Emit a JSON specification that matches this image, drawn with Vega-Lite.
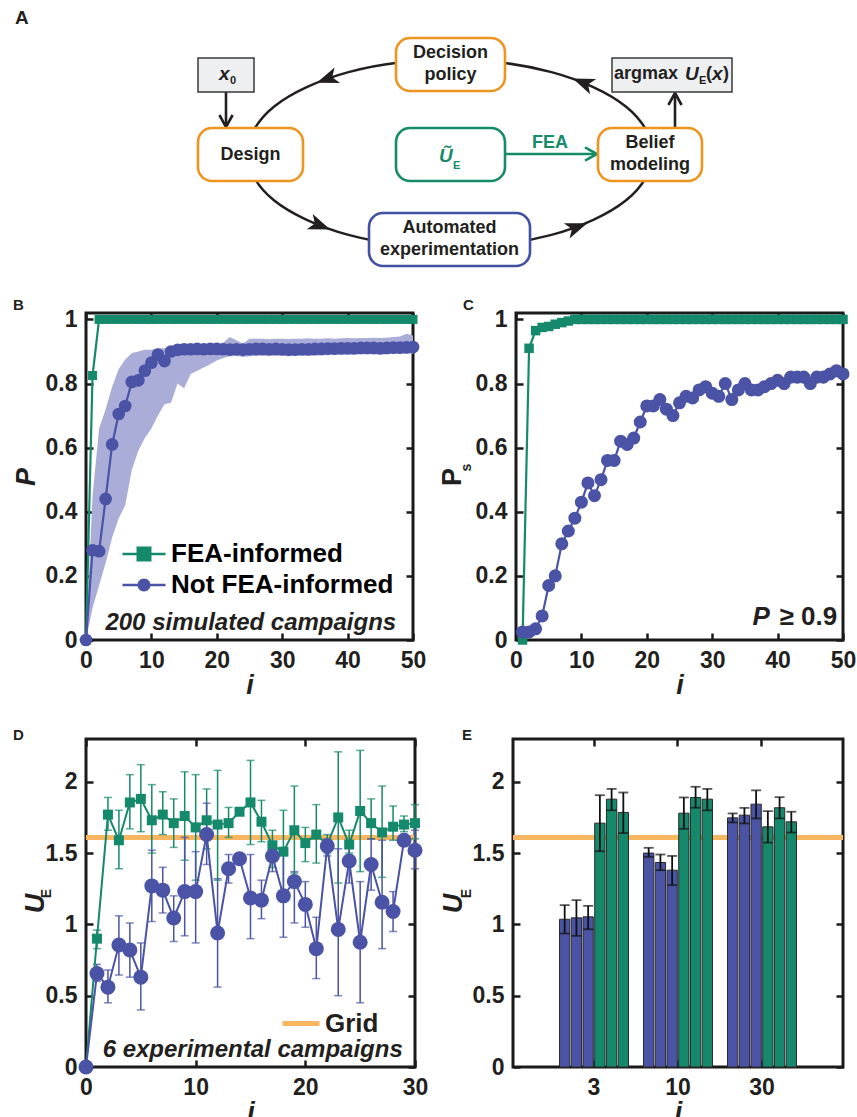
{
"$schema": "https://vega.github.io/schema/vega-lite/v6.json",
"background": "white",
"padding": {"left": 10, "top": 9, "right": 0, "bottom": 0},
"config": {
  "font": "Liberation Sans",
  "view": {"stroke": "#1a1a1a", "strokeWidth": 3},
  "title": {"anchor": "start", "frame": "group", "font": "Liberation Sans", "fontWeight": "bold", "fontSize": 15, "color": "#231F20", "baseline": "alphabetic", "offset": -5},
  "axis": {"domain": false, "grid": false, "ticks": true, "minExtent": 0, "tickColor": "#1a1a1a", "tickWidth": 2.5, "tickSize": -7, "labelFont": "Liberation Sans", "labelFontSize": 23, "labelFontWeight": "bold", "labelColor": "#231F20", "labelFlush": false, "labelOverlap": false, "labelPadding": 16, "titleFont": "Liberation Sans", "titleFontSize": 27, "titleFontWeight": "bold", "titleFontStyle": "italic", "titleColor": "#231F20", "titlePadding": 0},
  "axisLeft": {"titleAngle": -90, "titleBaseline": "middle", "titleAlign": "center"},
  "axisRight": {"labels": false, "titleAngle": -90, "titleBaseline": "middle", "titleAlign": "center", "titleFontSize": 14, "titleFontStyle": "normal"},
  "axisTop": {"labels": false},
  "legend": {"labelLimit": 400}
},
"datasets": {
  "ell": [{"k":0,"x":648,"y":153.5},{"k":1,"x":620.8,"y":200.5},{"k":2,"x":546.5,"y":234.9},{"k":3,"x":445,"y":247.5},{"k":4,"x":343.5,"y":234.9},{"k":5,"x":269.2,"y":200.5},{"k":6,"x":242,"y":153.5},{"k":7,"x":269.2,"y":106.5},{"k":8,"x":343.5,"y":72.1},{"k":9,"x":445,"y":59.5},{"k":10,"x":546.5,"y":72.1},{"k":11,"x":620.8,"y":106.5}],
  "heads": [{"x":322,"y":79,"a":160.5},{"x":315,"y":225.5,"a":21},{"x":572,"y":227,"a":-20.5},{"x":578,"y":82.5,"a":202}],
  "boxes": [{"x":391,"x2":500,"y":38,"y2":91,"k":"step"},{"x":193,"x2":298,"y":128,"y2":181,"k":"step"},{"x":593,"x2":697,"y":128,"y2":181,"k":"step"},{"x":391,"x2":500,"y":128,"y2":181,"k":"prior"},{"x":364,"x2":525,"y":213,"y2":266,"k":"experiment"}],
  "sboxes": [{"x":193,"x2":249,"y":58,"y2":92},{"x":607,"x2":727,"y":58,"y2":92}],
  "links": [{"x":221,"y":92,"x2":221,"y2":125,"k":"io"},{"x":670,"y":128,"x2":670,"y2":95,"k":"io"},{"x":500,"y":154,"x2":590,"y2":154,"k":"prior"}],
  "tips": [{"x":221,"y":127,"a":90,"k":"io"},{"x":670,"y":93,"a":-90,"k":"io"},{"x":592,"y":154,"a":0,"k":"prior"}],
  "dtext": [
    {"t":"Decision\npolicy","x":445.5,"y":53,"p":"label","k":"plain"},
    {"t":"Design","x":245.5,"y":154.5,"p":"label","k":"plain"},
    {"t":"Belief\nmodeling","x":645,"y":143,"p":"label","k":"plain"},
    {"t":"Automated\nexperimentation","x":444.5,"y":228,"p":"label","k":"plain"},
    {"t":"FEA","x":545,"y":142.5,"p":"label","k":"prior"},
    {"t":"x","x":214,"y":74,"p":"var","k":"plain"},
    {"t":"0","x":225,"y":81,"p":"sub","k":"plain"},
    {"t":"Ũ","x":434,"y":156,"p":"var","k":"prior"},
    {"t":"E","x":448,"y":166,"p":"sub","k":"prior"},
    {"t":"argmax","x":609,"y":74,"p":"word","k":"plain"},
    {"t":"U","x":680,"y":74,"p":"var","k":"plain"},
    {"t":"E","x":694,"y":81,"p":"sub","k":"plain"},
    {"t":"(","x":701,"y":74,"p":"word","k":"plain"},
    {"t":"x","x":707,"y":74,"p":"var","k":"plain"},
    {"t":")","x":718,"y":74,"p":"word","k":"plain"}
  ],
  "bandB": [{"i":0,"lo":0,"hi":0},{"i":1,"lo":0.10,"hi":0.45},{"i":2,"lo":0.17,"hi":0.66},{"i":3,"lo":0.24,"hi":0.72},{"i":4,"lo":0.32,"hi":0.79},{"i":5,"lo":0.38,"hi":0.845},{"i":6,"lo":0.42,"hi":0.875},{"i":7,"lo":0.53,"hi":0.895},{"i":8,"lo":0.59,"hi":0.90},{"i":9,"lo":0.63,"hi":0.905},{"i":10,"lo":0.66,"hi":0.905},{"i":11,"lo":0.70,"hi":0.91},{"i":12,"lo":0.735,"hi":0.91},{"i":13,"lo":0.74,"hi":0.91},{"i":14,"lo":0.80,"hi":0.915},{"i":15,"lo":0.785,"hi":0.915},{"i":16,"lo":0.83,"hi":0.915},{"i":17,"lo":0.84,"hi":0.915},{"i":18,"lo":0.85,"hi":0.915},{"i":19,"lo":0.86,"hi":0.918},{"i":20,"lo":0.872,"hi":0.92},{"i":21,"lo":0.88,"hi":0.928},{"i":22,"lo":0.885,"hi":0.945},{"i":23,"lo":0.886,"hi":0.935},{"i":24,"lo":0.883,"hi":0.925},{"i":25,"lo":0.885,"hi":0.94},{"i":26,"lo":0.886,"hi":0.94},{"i":27,"lo":0.887,"hi":0.94},{"i":28,"lo":0.886,"hi":0.938},{"i":29,"lo":0.887,"hi":0.94},{"i":30,"lo":0.886,"hi":0.94},{"i":31,"lo":0.885,"hi":0.939},{"i":32,"lo":0.886,"hi":0.94},{"i":33,"lo":0.887,"hi":0.94},{"i":34,"lo":0.886,"hi":0.941},{"i":35,"lo":0.887,"hi":0.94},{"i":36,"lo":0.888,"hi":0.94},{"i":37,"lo":0.888,"hi":0.941},{"i":38,"lo":0.889,"hi":0.94},{"i":39,"lo":0.889,"hi":0.941},{"i":40,"lo":0.89,"hi":0.942},{"i":41,"lo":0.89,"hi":0.941},{"i":42,"lo":0.891,"hi":0.942},{"i":43,"lo":0.891,"hi":0.942},{"i":44,"lo":0.891,"hi":0.943},{"i":45,"lo":0.89,"hi":0.942},{"i":46,"lo":0.891,"hi":0.943},{"i":47,"lo":0.892,"hi":0.945},{"i":48,"lo":0.892,"hi":0.947},{"i":49,"lo":0.893,"hi":0.955},{"i":50,"lo":0.893,"hi":0.95}],
  "pB": [
    {"i":0,"v":0,"s":"FEA-informed"},{"i":1,"v":0.825,"s":"FEA-informed"},{"i":2,"v":1,"s":"FEA-informed"},{"i":3,"v":1,"s":"FEA-informed"},{"i":4,"v":1,"s":"FEA-informed"},{"i":5,"v":1,"s":"FEA-informed"},{"i":6,"v":1,"s":"FEA-informed"},{"i":7,"v":1,"s":"FEA-informed"},{"i":8,"v":1,"s":"FEA-informed"},{"i":9,"v":1,"s":"FEA-informed"},{"i":10,"v":1,"s":"FEA-informed"},{"i":11,"v":1,"s":"FEA-informed"},{"i":12,"v":1,"s":"FEA-informed"},{"i":13,"v":1,"s":"FEA-informed"},{"i":14,"v":1,"s":"FEA-informed"},{"i":15,"v":1,"s":"FEA-informed"},{"i":16,"v":1,"s":"FEA-informed"},{"i":17,"v":1,"s":"FEA-informed"},{"i":18,"v":1,"s":"FEA-informed"},{"i":19,"v":1,"s":"FEA-informed"},{"i":20,"v":1,"s":"FEA-informed"},{"i":21,"v":1,"s":"FEA-informed"},{"i":22,"v":1,"s":"FEA-informed"},{"i":23,"v":1,"s":"FEA-informed"},{"i":24,"v":1,"s":"FEA-informed"},{"i":25,"v":1,"s":"FEA-informed"},{"i":26,"v":1,"s":"FEA-informed"},{"i":27,"v":1,"s":"FEA-informed"},{"i":28,"v":1,"s":"FEA-informed"},{"i":29,"v":1,"s":"FEA-informed"},{"i":30,"v":1,"s":"FEA-informed"},{"i":31,"v":1,"s":"FEA-informed"},{"i":32,"v":1,"s":"FEA-informed"},{"i":33,"v":1,"s":"FEA-informed"},{"i":34,"v":1,"s":"FEA-informed"},{"i":35,"v":1,"s":"FEA-informed"},{"i":36,"v":1,"s":"FEA-informed"},{"i":37,"v":1,"s":"FEA-informed"},{"i":38,"v":1,"s":"FEA-informed"},{"i":39,"v":1,"s":"FEA-informed"},{"i":40,"v":1,"s":"FEA-informed"},{"i":41,"v":1,"s":"FEA-informed"},{"i":42,"v":1,"s":"FEA-informed"},{"i":43,"v":1,"s":"FEA-informed"},{"i":44,"v":1,"s":"FEA-informed"},{"i":45,"v":1,"s":"FEA-informed"},{"i":46,"v":1,"s":"FEA-informed"},{"i":47,"v":1,"s":"FEA-informed"},{"i":48,"v":1,"s":"FEA-informed"},{"i":49,"v":1,"s":"FEA-informed"},{"i":50,"v":1,"s":"FEA-informed"},
    {"i":0,"v":0,"s":"Not FEA-informed"},{"i":1,"v":0.28,"s":"Not FEA-informed"},{"i":2,"v":0.277,"s":"Not FEA-informed"},{"i":3,"v":0.44,"s":"Not FEA-informed"},{"i":4,"v":0.61,"s":"Not FEA-informed"},{"i":5,"v":0.705,"s":"Not FEA-informed"},{"i":6,"v":0.73,"s":"Not FEA-informed"},{"i":7,"v":0.805,"s":"Not FEA-informed"},{"i":8,"v":0.81,"s":"Not FEA-informed"},{"i":9,"v":0.84,"s":"Not FEA-informed"},{"i":10,"v":0.865,"s":"Not FEA-informed"},{"i":11,"v":0.89,"s":"Not FEA-informed"},{"i":12,"v":0.87,"s":"Not FEA-informed"},{"i":13,"v":0.9,"s":"Not FEA-informed"},{"i":14,"v":0.905,"s":"Not FEA-informed"},{"i":15,"v":0.907,"s":"Not FEA-informed"},{"i":16,"v":0.907,"s":"Not FEA-informed"},{"i":17,"v":0.908,"s":"Not FEA-informed"},{"i":18,"v":0.907,"s":"Not FEA-informed"},{"i":19,"v":0.908,"s":"Not FEA-informed"},{"i":20,"v":0.908,"s":"Not FEA-informed"},{"i":21,"v":0.907,"s":"Not FEA-informed"},{"i":22,"v":0.906,"s":"Not FEA-informed"},{"i":23,"v":0.907,"s":"Not FEA-informed"},{"i":24,"v":0.906,"s":"Not FEA-informed"},{"i":25,"v":0.907,"s":"Not FEA-informed"},{"i":26,"v":0.908,"s":"Not FEA-informed"},{"i":27,"v":0.908,"s":"Not FEA-informed"},{"i":28,"v":0.907,"s":"Not FEA-informed"},{"i":29,"v":0.908,"s":"Not FEA-informed"},{"i":30,"v":0.907,"s":"Not FEA-informed"},{"i":31,"v":0.906,"s":"Not FEA-informed"},{"i":32,"v":0.906,"s":"Not FEA-informed"},{"i":33,"v":0.907,"s":"Not FEA-informed"},{"i":34,"v":0.907,"s":"Not FEA-informed"},{"i":35,"v":0.908,"s":"Not FEA-informed"},{"i":36,"v":0.908,"s":"Not FEA-informed"},{"i":37,"v":0.909,"s":"Not FEA-informed"},{"i":38,"v":0.909,"s":"Not FEA-informed"},{"i":39,"v":0.91,"s":"Not FEA-informed"},{"i":40,"v":0.91,"s":"Not FEA-informed"},{"i":41,"v":0.91,"s":"Not FEA-informed"},{"i":42,"v":0.911,"s":"Not FEA-informed"},{"i":43,"v":0.911,"s":"Not FEA-informed"},{"i":44,"v":0.911,"s":"Not FEA-informed"},{"i":45,"v":0.91,"s":"Not FEA-informed"},{"i":46,"v":0.911,"s":"Not FEA-informed"},{"i":47,"v":0.912,"s":"Not FEA-informed"},{"i":48,"v":0.912,"s":"Not FEA-informed"},{"i":49,"v":0.913,"s":"Not FEA-informed"},{"i":50,"v":0.914,"s":"Not FEA-informed"}
  ],
  "pC": [
    {"i":1,"v":0,"s":"FEA-informed"},{"i":2,"v":0.91,"s":"FEA-informed"},{"i":3,"v":0.965,"s":"FEA-informed"},{"i":4,"v":0.975,"s":"FEA-informed"},{"i":5,"v":0.978,"s":"FEA-informed"},{"i":6,"v":0.985,"s":"FEA-informed"},{"i":7,"v":0.99,"s":"FEA-informed"},{"i":8,"v":0.995,"s":"FEA-informed"},{"i":9,"v":1,"s":"FEA-informed"},{"i":10,"v":1,"s":"FEA-informed"},{"i":11,"v":1,"s":"FEA-informed"},{"i":12,"v":1,"s":"FEA-informed"},{"i":13,"v":1,"s":"FEA-informed"},{"i":14,"v":1,"s":"FEA-informed"},{"i":15,"v":1,"s":"FEA-informed"},{"i":16,"v":1,"s":"FEA-informed"},{"i":17,"v":1,"s":"FEA-informed"},{"i":18,"v":1,"s":"FEA-informed"},{"i":19,"v":1,"s":"FEA-informed"},{"i":20,"v":1,"s":"FEA-informed"},{"i":21,"v":1,"s":"FEA-informed"},{"i":22,"v":1,"s":"FEA-informed"},{"i":23,"v":1,"s":"FEA-informed"},{"i":24,"v":1,"s":"FEA-informed"},{"i":25,"v":1,"s":"FEA-informed"},{"i":26,"v":1,"s":"FEA-informed"},{"i":27,"v":1,"s":"FEA-informed"},{"i":28,"v":1,"s":"FEA-informed"},{"i":29,"v":1,"s":"FEA-informed"},{"i":30,"v":1,"s":"FEA-informed"},{"i":31,"v":1,"s":"FEA-informed"},{"i":32,"v":1,"s":"FEA-informed"},{"i":33,"v":1,"s":"FEA-informed"},{"i":34,"v":1,"s":"FEA-informed"},{"i":35,"v":1,"s":"FEA-informed"},{"i":36,"v":1,"s":"FEA-informed"},{"i":37,"v":1,"s":"FEA-informed"},{"i":38,"v":1,"s":"FEA-informed"},{"i":39,"v":1,"s":"FEA-informed"},{"i":40,"v":1,"s":"FEA-informed"},{"i":41,"v":1,"s":"FEA-informed"},{"i":42,"v":1,"s":"FEA-informed"},{"i":43,"v":1,"s":"FEA-informed"},{"i":44,"v":1,"s":"FEA-informed"},{"i":45,"v":1,"s":"FEA-informed"},{"i":46,"v":1,"s":"FEA-informed"},{"i":47,"v":1,"s":"FEA-informed"},{"i":48,"v":1,"s":"FEA-informed"},{"i":49,"v":1,"s":"FEA-informed"},{"i":50,"v":1,"s":"FEA-informed"},
    {"i":1,"v":0.025,"s":"Not FEA-informed"},{"i":2,"v":0.025,"s":"Not FEA-informed"},{"i":3,"v":0.035,"s":"Not FEA-informed"},{"i":4,"v":0.075,"s":"Not FEA-informed"},{"i":5,"v":0.17,"s":"Not FEA-informed"},{"i":6,"v":0.2,"s":"Not FEA-informed"},{"i":7,"v":0.3,"s":"Not FEA-informed"},{"i":8,"v":0.34,"s":"Not FEA-informed"},{"i":9,"v":0.38,"s":"Not FEA-informed"},{"i":10,"v":0.43,"s":"Not FEA-informed"},{"i":11,"v":0.49,"s":"Not FEA-informed"},{"i":12,"v":0.45,"s":"Not FEA-informed"},{"i":13,"v":0.5,"s":"Not FEA-informed"},{"i":14,"v":0.56,"s":"Not FEA-informed"},{"i":15,"v":0.56,"s":"Not FEA-informed"},{"i":16,"v":0.62,"s":"Not FEA-informed"},{"i":17,"v":0.61,"s":"Not FEA-informed"},{"i":18,"v":0.63,"s":"Not FEA-informed"},{"i":19,"v":0.68,"s":"Not FEA-informed"},{"i":20,"v":0.73,"s":"Not FEA-informed"},{"i":21,"v":0.73,"s":"Not FEA-informed"},{"i":22,"v":0.75,"s":"Not FEA-informed"},{"i":23,"v":0.72,"s":"Not FEA-informed"},{"i":24,"v":0.7,"s":"Not FEA-informed"},{"i":25,"v":0.74,"s":"Not FEA-informed"},{"i":26,"v":0.76,"s":"Not FEA-informed"},{"i":27,"v":0.755,"s":"Not FEA-informed"},{"i":28,"v":0.78,"s":"Not FEA-informed"},{"i":29,"v":0.79,"s":"Not FEA-informed"},{"i":30,"v":0.77,"s":"Not FEA-informed"},{"i":31,"v":0.76,"s":"Not FEA-informed"},{"i":32,"v":0.8,"s":"Not FEA-informed"},{"i":33,"v":0.75,"s":"Not FEA-informed"},{"i":34,"v":0.78,"s":"Not FEA-informed"},{"i":35,"v":0.8,"s":"Not FEA-informed"},{"i":36,"v":0.78,"s":"Not FEA-informed"},{"i":37,"v":0.78,"s":"Not FEA-informed"},{"i":38,"v":0.79,"s":"Not FEA-informed"},{"i":39,"v":0.8,"s":"Not FEA-informed"},{"i":40,"v":0.81,"s":"Not FEA-informed"},{"i":41,"v":0.8,"s":"Not FEA-informed"},{"i":42,"v":0.82,"s":"Not FEA-informed"},{"i":43,"v":0.82,"s":"Not FEA-informed"},{"i":44,"v":0.82,"s":"Not FEA-informed"},{"i":45,"v":0.8,"s":"Not FEA-informed"},{"i":46,"v":0.82,"s":"Not FEA-informed"},{"i":47,"v":0.82,"s":"Not FEA-informed"},{"i":48,"v":0.83,"s":"Not FEA-informed"},{"i":49,"v":0.84,"s":"Not FEA-informed"},{"i":50,"v":0.83,"s":"Not FEA-informed"}
  ],
  "pD": [
    {"i":0,"m":0,"lo":0,"hi":0,"s":"FEA-informed"},{"i":1,"m":0.9,"lo":0.83,"hi":0.96,"s":"FEA-informed"},{"i":2,"m":1.77,"lo":1.66,"hi":1.89,"s":"FEA-informed"},{"i":3,"m":1.59,"lo":1.39,"hi":1.8,"s":"FEA-informed"},{"i":4,"m":1.855,"lo":1.67,"hi":2.05,"s":"FEA-informed"},{"i":5,"m":1.88,"lo":1.65,"hi":2.12,"s":"FEA-informed"},{"i":6,"m":1.73,"lo":1.5,"hi":1.98,"s":"FEA-informed"},{"i":7,"m":1.77,"lo":1.63,"hi":1.93,"s":"FEA-informed"},{"i":8,"m":1.71,"lo":1.54,"hi":1.88,"s":"FEA-informed"},{"i":9,"m":1.76,"lo":1.45,"hi":2.07,"s":"FEA-informed"},{"i":10,"m":1.68,"lo":1.31,"hi":2.05,"s":"FEA-informed"},{"i":11,"m":1.73,"lo":1.53,"hi":1.95,"s":"FEA-informed"},{"i":12,"m":1.7,"lo":1.31,"hi":2.08,"s":"FEA-informed"},{"i":13,"m":1.71,"lo":1.61,"hi":1.82,"s":"FEA-informed"},{"i":14,"m":1.79,"lo":1.79,"hi":1.79,"s":"FEA-informed"},{"i":15,"m":1.855,"lo":1.56,"hi":2.15,"s":"FEA-informed"},{"i":16,"m":1.72,"lo":1.58,"hi":1.87,"s":"FEA-informed"},{"i":17,"m":1.555,"lo":1.4,"hi":1.66,"s":"FEA-informed"},{"i":18,"m":1.51,"lo":1.22,"hi":1.8,"s":"FEA-informed"},{"i":19,"m":1.66,"lo":1.36,"hi":1.97,"s":"FEA-informed"},{"i":20,"m":1.57,"lo":1.44,"hi":1.68,"s":"FEA-informed"},{"i":21,"m":1.63,"lo":1.43,"hi":1.84,"s":"FEA-informed"},{"i":22,"m":1.56,"lo":1.5,"hi":1.63,"s":"FEA-informed"},{"i":23,"m":1.75,"lo":1.29,"hi":2.21,"s":"FEA-informed"},{"i":24,"m":1.56,"lo":1.5,"hi":1.66,"s":"FEA-informed"},{"i":25,"m":1.795,"lo":1.37,"hi":2.22,"s":"FEA-informed"},{"i":26,"m":1.71,"lo":1.6,"hi":1.88,"s":"FEA-informed"},{"i":27,"m":1.645,"lo":1.33,"hi":1.97,"s":"FEA-informed"},{"i":28,"m":1.685,"lo":1.59,"hi":1.83,"s":"FEA-informed"},{"i":29,"m":1.7,"lo":1.65,"hi":1.76,"s":"FEA-informed"},{"i":30,"m":1.71,"lo":1.6,"hi":1.84,"s":"FEA-informed"},
    {"i":0,"m":0,"lo":0,"hi":0,"s":"Not FEA-informed"},{"i":1,"m":0.655,"lo":0.6,"hi":0.72,"s":"Not FEA-informed"},{"i":2,"m":0.56,"lo":0.45,"hi":0.68,"s":"Not FEA-informed"},{"i":3,"m":0.855,"lo":0.645,"hi":1.06,"s":"Not FEA-informed"},{"i":4,"m":0.82,"lo":0.63,"hi":1.01,"s":"Not FEA-informed"},{"i":5,"m":0.63,"lo":0.4,"hi":0.87,"s":"Not FEA-informed"},{"i":6,"m":1.27,"lo":1.02,"hi":1.52,"s":"Not FEA-informed"},{"i":7,"m":1.24,"lo":1.08,"hi":1.4,"s":"Not FEA-informed"},{"i":8,"m":1.045,"lo":0.88,"hi":1.2,"s":"Not FEA-informed"},{"i":9,"m":1.23,"lo":0.92,"hi":1.61,"s":"Not FEA-informed"},{"i":10,"m":1.23,"lo":0.87,"hi":1.51,"s":"Not FEA-informed"},{"i":11,"m":1.63,"lo":1.42,"hi":1.85,"s":"Not FEA-informed"},{"i":12,"m":0.94,"lo":0.56,"hi":1.32,"s":"Not FEA-informed"},{"i":13,"m":1.39,"lo":1.29,"hi":1.49,"s":"Not FEA-informed"},{"i":14,"m":1.46,"lo":1.46,"hi":1.46,"s":"Not FEA-informed"},{"i":15,"m":1.185,"lo":0.9,"hi":1.49,"s":"Not FEA-informed"},{"i":16,"m":1.17,"lo":1.04,"hi":1.31,"s":"Not FEA-informed"},{"i":17,"m":1.48,"lo":1.37,"hi":1.52,"s":"Not FEA-informed"},{"i":18,"m":1.2,"lo":0.91,"hi":1.52,"s":"Not FEA-informed"},{"i":19,"m":1.3,"lo":1.01,"hi":1.37,"s":"Not FEA-informed"},{"i":20,"m":1.14,"lo":0.98,"hi":1.3,"s":"Not FEA-informed"},{"i":21,"m":0.83,"lo":0.62,"hi":1.05,"s":"Not FEA-informed"},{"i":22,"m":1.55,"lo":1.48,"hi":1.6,"s":"Not FEA-informed"},{"i":23,"m":0.965,"lo":0.5,"hi":1.53,"s":"Not FEA-informed"},{"i":24,"m":1.445,"lo":1.29,"hi":1.56,"s":"Not FEA-informed"},{"i":25,"m":0.875,"lo":0.45,"hi":1.3,"s":"Not FEA-informed"},{"i":26,"m":1.42,"lo":1.24,"hi":1.6,"s":"Not FEA-informed"},{"i":27,"m":1.155,"lo":0.83,"hi":1.59,"s":"Not FEA-informed"},{"i":28,"m":1.09,"lo":0.95,"hi":1.23,"s":"Not FEA-informed"},{"i":29,"m":1.59,"lo":1.55,"hi":1.63,"s":"Not FEA-informed"},{"i":30,"m":1.52,"lo":1.39,"hi":1.66,"s":"Not FEA-informed"}
  ],
  "pE": [
    {"g":"3","r":"1","s":"Not FEA-informed","v":1.036,"lo":0.936,"hi":1.135},{"g":"3","r":"2","s":"Not FEA-informed","v":1.046,"lo":0.92,"hi":1.17},{"g":"3","r":"3","s":"Not FEA-informed","v":1.053,"lo":0.966,"hi":1.13},{"g":"3","r":"4","s":"FEA-informed","v":1.71,"lo":1.513,"hi":1.906},{"g":"3","r":"5","s":"FEA-informed","v":1.878,"lo":1.8,"hi":1.95},{"g":"3","r":"6","s":"FEA-informed","v":1.785,"lo":1.64,"hi":1.925},
    {"g":"10","r":"1","s":"Not FEA-informed","v":1.5,"lo":1.474,"hi":1.537},{"g":"10","r":"2","s":"Not FEA-informed","v":1.434,"lo":1.38,"hi":1.49},{"g":"10","r":"3","s":"Not FEA-informed","v":1.38,"lo":1.275,"hi":1.48},{"g":"10","r":"4","s":"FEA-informed","v":1.78,"lo":1.67,"hi":1.89},{"g":"10","r":"5","s":"FEA-informed","v":1.89,"lo":1.818,"hi":1.965},{"g":"10","r":"6","s":"FEA-informed","v":1.878,"lo":1.8,"hi":1.95},
    {"g":"30","r":"1","s":"Not FEA-informed","v":1.747,"lo":1.715,"hi":1.778},{"g":"30","r":"2","s":"Not FEA-informed","v":1.766,"lo":1.708,"hi":1.817},{"g":"30","r":"3","s":"Not FEA-informed","v":1.843,"lo":1.743,"hi":1.94},{"g":"30","r":"4","s":"FEA-informed","v":1.684,"lo":1.574,"hi":1.794},{"g":"30","r":"5","s":"FEA-informed","v":1.818,"lo":1.743,"hi":1.892},{"g":"30","r":"6","s":"FEA-informed","v":1.719,"lo":1.644,"hi":1.79}
  ]
},
"resolve": {"scale": {"color": "independent", "stroke": "independent", "shape": "independent", "size": "independent"}},
"spacing": 26,
"vconcat": [
  {
    "width": 760, "height": 240,
    "view": {"stroke": null},
    "title": {"text": "A", "dx": -71, "fontSize": 19, "offset": 2},
    "encoding": {
      "x": {"field": "x", "type": "quantitative", "scale": {"domain": [81, 841], "nice": false, "zero": false}, "axis": null},
      "y": {"field": "y", "type": "quantitative", "scale": {"domain": [30, 270], "nice": false, "zero": false, "reverse": true}, "axis": null}
    },
    "layer": [
      {"data": {"name": "ell"}, "mark": {"type": "line", "interpolate": "cardinal-closed", "color": "#231F20", "strokeWidth": 2.5}, "encoding": {"order": {"field": "k", "type": "quantitative"}}},
      {"data": {"name": "heads"}, "mark": {"type": "point", "shape": "M1,0L-1,-0.75L-0.5,0L-1,0.75Z", "filled": true, "color": "#231F20", "size": 480, "opacity": 1}, "encoding": {"angle": {"field": "a", "type": "quantitative", "scale": null}}},
      {"data": {"name": "links"}, "mark": {"type": "rule", "strokeWidth": 2.6}, "encoding": {"x2": {"field": "x2"}, "y2": {"field": "y2"}, "stroke": {"field": "k", "type": "nominal", "scale": {"domain": ["step", "experiment", "prior", "io"], "range": ["#EE951F", "#4150A3", "#168B69", "#231F20"]}, "legend": null}}},
      {"data": {"name": "tips"}, "mark": {"type": "point", "shape": "M-1,-0.55L0,0L-1,0.55", "filled": false, "strokeWidth": 2.6, "size": 576, "opacity": 1}, "encoding": {"angle": {"field": "a", "type": "quantitative", "scale": null}, "stroke": {"field": "k", "type": "nominal", "scale": {"domain": ["step", "experiment", "prior", "io"], "range": ["#EE951F", "#4150A3", "#168B69", "#231F20"]}, "legend": null}}},
      {"data": {"name": "boxes"}, "mark": {"type": "rect", "cornerRadius": 14, "fill": "white", "strokeWidth": 2.6}, "encoding": {"x2": {"field": "x2"}, "y2": {"field": "y2"}, "stroke": {"field": "k", "type": "nominal", "scale": {"domain": ["step", "experiment", "prior", "io"], "range": ["#EE951F", "#4150A3", "#168B69", "#231F20"]}, "legend": null}}},
      {"data": {"name": "sboxes"}, "mark": {"type": "rect", "fill": "#EEEFF1", "stroke": "#3a3a3a", "strokeWidth": 1.5}, "encoding": {"x2": {"field": "x2"}, "y2": {"field": "y2"}}},
      {"data": {"name": "dtext"}, "transform": [{"filter": "datum.p === 'label'"}], "mark": {"type": "text", "font": "Liberation Sans", "fontWeight": "bold", "fontSize": 18, "align": "center", "baseline": "middle", "lineBreak": "\n", "lineHeight": 22}, "encoding": {"text": {"field": "t"}, "color": {"field": "k", "type": "nominal", "scale": {"domain": ["plain", "prior"], "range": ["#231F20", "#168B69"]}, "legend": null}}},
      {"data": {"name": "dtext"}, "transform": [{"filter": "datum.p === 'var'"}], "mark": {"type": "text", "font": "Liberation Sans", "fontWeight": "bold", "fontStyle": "italic", "fontSize": 19, "align": "left", "baseline": "middle"}, "encoding": {"text": {"field": "t"}, "color": {"field": "k", "type": "nominal", "scale": {"domain": ["plain", "prior"], "range": ["#231F20", "#168B69"]}, "legend": null}}},
      {"data": {"name": "dtext"}, "transform": [{"filter": "datum.p === 'sub'"}], "mark": {"type": "text", "font": "Liberation Sans", "fontWeight": "bold", "fontSize": 11, "align": "left", "baseline": "middle"}, "encoding": {"text": {"field": "t"}, "color": {"field": "k", "type": "nominal", "scale": {"domain": ["plain", "prior"], "range": ["#231F20", "#168B69"]}, "legend": null}}},
      {"data": {"name": "dtext"}, "transform": [{"filter": "datum.p === 'word'"}], "mark": {"type": "text", "font": "Liberation Sans", "fontWeight": "bold", "fontSize": 18, "align": "left", "baseline": "middle"}, "encoding": {"text": {"field": "t"}, "color": {"field": "k", "type": "nominal", "scale": {"domain": ["plain", "prior"], "range": ["#231F20", "#168B69"]}, "legend": null}}}
    ]
  },
  {
    "spacing": 26,
    "resolve": {"scale": {"color": "independent", "stroke": "independent", "shape": "independent", "size": "independent"}},
    "vconcat": [
      {
        "spacing": 8,
        "resolve": {"scale": {"color": "independent", "stroke": "independent", "shape": "independent", "size": "independent"}},
        "hconcat": [
          {
            "width": 327, "height": 327,
            "title": {"text": "B", "dx": -73},
            "layer": [
              {
                "encoding": {
                  "x": {"field": "i", "type": "quantitative", "scale": {"domain": [0, 50], "nice": false, "zero": false}, "axis": {"orient": "bottom", "values": [0, 10, 20, 30, 40, 50], "format": "d", "title": "i"}},
                  "y": {"field": "v", "type": "quantitative", "scale": {"domain": [0, 1.02], "nice": false, "zero": false}, "axis": {"orient": "left", "values": [0, 0.2, 0.4, 0.6, 0.8, 1], "format": "~g", "title": "P", "titleX": -60}}
                },
                "layer": [
                  {"data": {"name": "bandB"}, "mark": {"type": "area", "color": "#ABADD9", "opacity": 1}, "encoding": {"y": {"field": "lo", "type": "quantitative", "scale": {"domain": [0, 1.02], "nice": false, "zero": false}, "axis": {"orient": "left", "values": [0, 0.2, 0.4, 0.6, 0.8, 1], "format": "~g", "title": "P", "titleX": -60}}, "y2": {"field": "hi"}}},
                  {"data": {"name": "pB"}, "transform": [{"filter": "datum.s === 'FEA-informed'"}], "mark": {"type": "line", "strokeWidth": 2.2, "color": "#15896B"}, "encoding": {}},
                  {"data": {"name": "pB"}, "transform": [{"filter": "datum.s === 'Not FEA-informed'"}], "mark": {"type": "line", "strokeWidth": 2.2, "color": "#4A53A5"}, "encoding": {}},
                  {"data": {"name": "pB"}, "transform": [{"filter": "datum.s === 'FEA-informed'"}], "mark": {"type": "point", "shape": "square", "filled": true, "opacity": 1, "size": 81, "color": "#15896B"}, "encoding": {}},
                  {"data": {"name": "pB"}, "transform": [{"filter": "datum.s === 'Not FEA-informed'"}], "mark": {"type": "point", "shape": "circle", "filled": true, "opacity": 1, "size": 161, "color": "#4A53A5"}, "encoding": {}},
                  {"data": {"name": "pB"}, "mark": {"type": "point", "filled": true, "opacity": 1, "size": 0}, "encoding": {
                    "color": {"field": "s", "type": "nominal", "scale": {"domain": ["FEA-informed", "Not FEA-informed"], "range": ["#15896B", "#4A53A5"]}, "legend": {"orient": "none", "legendX": 45, "legendY": 228, "title": null, "padding": 0, "rowPadding": 5, "symbolSize": 400, "symbolStrokeWidth": 0, "labelOffset": 14, "labelFont": "Liberation Sans", "labelFontSize": 26, "labelFontWeight": "bold", "labelLimit": 400, "encode": {"labels": {"update": {"fill": {"signal": "datum.value === 'FEA-informed' ? '#15896B' : '#4A53A5'"}}}}}},
                    "shape": {"field": "s", "type": "nominal", "scale": {"domain": ["FEA-informed", "Not FEA-informed"], "range": ["M-2.15,-0.12L2.15,-0.12L2.15,0.12L-2.15,0.12ZM-0.75,-0.75L0.75,-0.75L0.75,0.75L-0.75,0.75Z", "M-2.15,-0.12L2.15,-0.12L2.15,0.12L-2.15,0.12ZM0.65,0A0.65,0.65 0 1,1 -0.65,0A0.65,0.65 0 1,1 0.65,0Z"]}, "legend": {"orient": "none", "legendX": 45, "legendY": 228, "title": null, "padding": 0, "rowPadding": 5, "symbolSize": 400, "symbolStrokeWidth": 0, "labelOffset": 14, "labelFont": "Liberation Sans", "labelFontSize": 26, "labelFontWeight": "bold", "labelLimit": 400, "encode": {"labels": {"update": {"fill": {"signal": "datum.value === 'FEA-informed' ? '#15896B' : '#4A53A5'"}}}}}}}},
                  {"data": {"values": [{"t": "200 simulated campaigns", "i": 25.2, "v": 0.053}]}, "mark": {"type": "text", "fontStyle": "italic", "fontWeight": "bold", "fontSize": 24, "color": "#231F20", "align": "center", "baseline": "middle"}, "encoding": {"text": {"field": "t"}}}
                ]
              },
              {"data": {"values": [{"i": 0, "v": 0}]}, "mark": {"type": "point", "opacity": 0}, "encoding": {
                "x": {"field": "i", "type": "quantitative", "scale": {"domain": [0, 50], "nice": false, "zero": false}, "axis": {"orient": "top", "values": [0, 10, 20, 30, 40, 50], "title": null}},
                "y": {"field": "v", "type": "quantitative", "scale": {"domain": [0, 1.02], "nice": false, "zero": false}, "axis": {"orient": "right", "values": [0, 0.2, 0.4, 0.6, 0.8, 1], "title": null}}}}
            ],
            "resolve": {"scale": {"x": "independent", "y": "independent"}}
          },
          {
            "width": 327, "height": 327,
            "title": {"text": "C", "dx": -53},
            "layer": [
              {
                "encoding": {
                  "x": {"field": "i", "type": "quantitative", "scale": {"domain": [0, 50], "nice": false, "zero": false}, "axis": {"orient": "bottom", "values": [0, 10, 20, 30, 40, 50], "format": "d", "title": "i"}},
                  "y": {"field": "v", "type": "quantitative", "scale": {"domain": [0, 1.02], "nice": false, "zero": false}, "axis": {"orient": "left", "values": [0, 0.2, 0.4, 0.6, 0.8, 1], "format": "~g", "title": "P", "titleX": -64, "titleFontStyle": "normal"}}
                },
                "layer": [
                  {"data": {"name": "pC"}, "mark": {"type": "line", "strokeWidth": 2.2}, "encoding": {"color": {"field": "s", "type": "nominal", "scale": {"domain": ["FEA-informed", "Not FEA-informed"], "range": ["#15896B", "#4A53A5"]}, "legend": null}}},
                  {"data": {"name": "pC"}, "mark": {"type": "point", "filled": true, "opacity": 1}, "encoding": {"color": {"field": "s", "type": "nominal", "scale": {"domain": ["FEA-informed", "Not FEA-informed"], "range": ["#15896B", "#4A53A5"]}, "legend": null}, "shape": {"field": "s", "type": "nominal", "scale": {"domain": ["FEA-informed", "Not FEA-informed"], "range": ["square", "circle"]}, "legend": null}, "size": {"field": "s", "type": "nominal", "scale": {"type": "ordinal", "domain": ["FEA-informed", "Not FEA-informed"], "range": [90, 170]}, "legend": null}}},
                  {"data": {"values": [{"t": "P", "i": 38.8, "v": 0.072}]}, "mark": {"type": "text", "fontStyle": "italic", "fontWeight": "bold", "fontSize": 26, "color": "#231F20", "align": "right", "baseline": "middle"}, "encoding": {"text": {"field": "t"}}}
                ]
              },
              {"data": {"values": [{"t": "≥ 0.9", "i": 49.1, "v": 0.072}]}, "mark": {"type": "text", "fontWeight": "bold", "fontSize": 26, "color": "#231F20", "align": "right", "baseline": "middle"}, "encoding": {
                "text": {"field": "t"},
                "x": {"field": "i", "type": "quantitative", "scale": {"domain": [0, 50], "nice": false, "zero": false}, "axis": {"orient": "top", "values": [0, 10, 20, 30, 40, 50], "title": null}},
                "y": {"field": "v", "type": "quantitative", "scale": {"domain": [0, 1.02], "nice": false, "zero": false}, "axis": {"orient": "right", "values": [0, 0.2, 0.4, 0.6, 0.8, 1], "title": "s", "titleX": -376.5, "titleY": 154}}}}
            ],
            "resolve": {"scale": {"x": "independent", "y": "independent"}}
          }
        ]
      },
      {
        "spacing": 7,
        "resolve": {"scale": {"color": "independent", "stroke": "independent", "shape": "independent", "size": "independent"}},
        "hconcat": [
          {
            "width": 329, "height": 328,
            "title": {"text": "D", "dx": -73},
            "layer": [
              {
                "encoding": {
                  "y": {"field": "m", "type": "quantitative", "scale": {"domain": [0, 2.3], "nice": false, "zero": false}, "axis": {"orient": "left", "values": [0, 0.5, 1, 1.5, 2], "format": "~g", "title": "U", "titleX": -50.5}}
                },
                "layer": [
                  {"data": {"values": [{"m": 1.61, "g": "Grid"}]}, "mark": {"type": "rule", "strokeWidth": 5}, "encoding": {"stroke": {"field": "g", "type": "nominal", "scale": {"domain": ["Grid"], "range": ["#F8B661"]}, "legend": {"orient": "none", "legendX": 194, "legendY": 263.5, "title": null, "padding": 0, "symbolType": "stroke", "symbolStrokeWidth": 5, "symbolSize": 1369, "labelFont": "Liberation Sans", "labelFontSize": 26, "labelFontWeight": "bold", "labelColor": "#231F20", "labelOffset": 3}}}},
                  {"data": {"name": "pD"}, "mark": {"type": "rule", "strokeWidth": 1.5}, "encoding": {
                    "x": {"field": "i", "type": "quantitative", "scale": {"domain": [0, 30], "nice": false, "zero": false}, "axis": {"orient": "bottom", "values": [0, 10, 20, 30], "format": "d", "title": "i"}},
                    "y": {"field": "lo", "type": "quantitative", "scale": {"domain": [0, 2.3], "nice": false, "zero": false}, "axis": {"orient": "left", "values": [0, 0.5, 1, 1.5, 2], "format": "~g", "title": "U", "titleX": -50.5}},
                    "y2": {"field": "hi"},
                    "color": {"field": "s", "type": "nominal", "scale": {"domain": ["FEA-informed", "Not FEA-informed"], "range": ["#15896B", "#4A53A5"]}, "legend": null}}},
                  {"data": {"name": "pD"}, "mark": {"type": "tick", "orient": "horizontal", "size": 8, "thickness": 1.5}, "encoding": {
                    "x": {"field": "i", "type": "quantitative", "scale": {"domain": [0, 30], "nice": false, "zero": false}, "axis": {"orient": "bottom", "values": [0, 10, 20, 30], "format": "d", "title": "i"}},
                    "y": {"field": "lo", "type": "quantitative", "scale": {"domain": [0, 2.3], "nice": false, "zero": false}, "axis": {"orient": "left", "values": [0, 0.5, 1, 1.5, 2], "format": "~g", "title": "U", "titleX": -50.5}},
                    "color": {"field": "s", "type": "nominal", "scale": {"domain": ["FEA-informed", "Not FEA-informed"], "range": ["#15896B", "#4A53A5"]}, "legend": null}}},
                  {"data": {"name": "pD"}, "mark": {"type": "tick", "orient": "horizontal", "size": 8, "thickness": 1.5}, "encoding": {
                    "x": {"field": "i", "type": "quantitative", "scale": {"domain": [0, 30], "nice": false, "zero": false}, "axis": {"orient": "bottom", "values": [0, 10, 20, 30], "format": "d", "title": "i"}},
                    "y": {"field": "hi", "type": "quantitative", "scale": {"domain": [0, 2.3], "nice": false, "zero": false}, "axis": {"orient": "left", "values": [0, 0.5, 1, 1.5, 2], "format": "~g", "title": "U", "titleX": -50.5}},
                    "color": {"field": "s", "type": "nominal", "scale": {"domain": ["FEA-informed", "Not FEA-informed"], "range": ["#15896B", "#4A53A5"]}, "legend": null}}},
                  {"data": {"name": "pD"}, "mark": {"type": "line", "strokeWidth": 2}, "encoding": {
                    "x": {"field": "i", "type": "quantitative", "scale": {"domain": [0, 30], "nice": false, "zero": false}, "axis": {"orient": "bottom", "values": [0, 10, 20, 30], "format": "d", "title": "i"}},
                    "color": {"field": "s", "type": "nominal", "scale": {"domain": ["FEA-informed", "Not FEA-informed"], "range": ["#15896B", "#4A53A5"]}, "legend": null}}},
                  {"data": {"name": "pD"}, "mark": {"type": "point", "filled": true, "opacity": 1}, "encoding": {
                    "x": {"field": "i", "type": "quantitative", "scale": {"domain": [0, 30], "nice": false, "zero": false}, "axis": {"orient": "bottom", "values": [0, 10, 20, 30], "format": "d", "title": "i"}},
                    "color": {"field": "s", "type": "nominal", "scale": {"domain": ["FEA-informed", "Not FEA-informed"], "range": ["#15896B", "#4A53A5"]}, "legend": null},
                    "shape": {"field": "s", "type": "nominal", "scale": {"domain": ["FEA-informed", "Not FEA-informed"], "range": ["square", "circle"]}, "legend": null},
                    "size": {"field": "s", "type": "nominal", "scale": {"type": "ordinal", "domain": ["FEA-informed", "Not FEA-informed"], "range": [100, 225]}, "legend": null}}},
                  {"data": {"values": [{"t": "6 experimental campaigns", "i": 15.2, "m": 0.12}]}, "mark": {"type": "text", "fontStyle": "italic", "fontWeight": "bold", "fontSize": 24, "color": "#231F20", "align": "center", "baseline": "middle"}, "encoding": {
                    "x": {"field": "i", "type": "quantitative", "scale": {"domain": [0, 30], "nice": false, "zero": false}, "axis": {"orient": "bottom", "values": [0, 10, 20, 30], "format": "d", "title": "i"}},
                    "text": {"field": "t"}}}
                ]
              },
              {"data": {"values": [{"i": 0, "v": 0}]}, "mark": {"type": "point", "opacity": 0}, "encoding": {
                "x": {"field": "i", "type": "quantitative", "scale": {"domain": [0, 30], "nice": false, "zero": false}, "axis": {"orient": "top", "values": [0, 10, 20, 30], "title": null}},
                "y": {"field": "v", "type": "quantitative", "scale": {"domain": [0, 2.3], "nice": false, "zero": false}, "axis": {"orient": "right", "values": [0, 0.5, 1, 1.5, 2], "title": "E", "titleX": -369, "titleY": 154}}}}
            ],
            "resolve": {"scale": {"x": "independent", "y": "independent"}}
          },
          {
            "width": 330, "height": 328,
            "title": {"text": "E", "dx": -51},
            "layer": [
              {
                "data": {"name": "pE"},
                "encoding": {
                  "y": {"field": "v", "type": "quantitative", "scale": {"domain": [0, 2.3], "nice": false, "zero": false}, "axis": {"orient": "left", "values": [0, 0.5, 1, 1.5, 2], "format": "~g", "title": "U", "titleX": -60}}
                },
                "layer": [
                  {"data": {"values": [{"v": 1.61}]}, "mark": {"type": "rule", "color": "#F8B661", "strokeWidth": 5}, "encoding": {}},
                  {"mark": {"type": "bar", "stroke": "#2a2a2a", "strokeWidth": 1}, "encoding": {
                    "x": {"field": "g", "type": "nominal", "sort": ["3", "10", "30"], "scale": {"type": "band", "domain": ["3", "10", "30"], "paddingInner": 0.179, "paddingOuter": 0.554}, "axis": {"orient": "bottom", "title": "i", "labelAngle": 0}},
                    "xOffset": {"field": "r", "type": "nominal", "scale": {"paddingInner": 0.12, "paddingOuter": 0}},
                    "color": {"field": "s", "type": "nominal", "scale": {"domain": ["FEA-informed", "Not FEA-informed"], "range": ["#15896B", "#4A53A5"]}, "legend": null}}},
                  {"mark": {"type": "rule", "color": "#111111", "strokeWidth": 1.8}, "encoding": {
                    "x": {"field": "g", "type": "nominal", "sort": ["3", "10", "30"], "scale": {"type": "band", "domain": ["3", "10", "30"], "paddingInner": 0.179, "paddingOuter": 0.554}, "axis": {"orient": "bottom", "title": "i", "labelAngle": 0}},
                    "xOffset": {"field": "r", "type": "nominal", "scale": {"paddingInner": 0.12, "paddingOuter": 0}},
                    "y": {"field": "lo", "type": "quantitative", "scale": {"domain": [0, 2.3], "nice": false, "zero": false}, "axis": {"orient": "left", "values": [0, 0.5, 1, 1.5, 2], "format": "~g", "title": "U", "titleX": -60}},
                    "y2": {"field": "hi"}}},
                  {"mark": {"type": "tick", "color": "#111111", "orient": "horizontal", "size": 10, "thickness": 1.8}, "encoding": {
                    "x": {"field": "g", "type": "nominal", "sort": ["3", "10", "30"], "scale": {"type": "band", "domain": ["3", "10", "30"], "paddingInner": 0.179, "paddingOuter": 0.554}, "axis": {"orient": "bottom", "title": "i", "labelAngle": 0}},
                    "xOffset": {"field": "r", "type": "nominal", "scale": {"paddingInner": 0.12, "paddingOuter": 0}},
                    "y": {"field": "lo", "type": "quantitative", "scale": {"domain": [0, 2.3], "nice": false, "zero": false}, "axis": {"orient": "left", "values": [0, 0.5, 1, 1.5, 2], "format": "~g", "title": "U", "titleX": -60}}}},
                  {"mark": {"type": "tick", "color": "#111111", "orient": "horizontal", "size": 10, "thickness": 1.8}, "encoding": {
                    "x": {"field": "g", "type": "nominal", "sort": ["3", "10", "30"], "scale": {"type": "band", "domain": ["3", "10", "30"], "paddingInner": 0.179, "paddingOuter": 0.554}, "axis": {"orient": "bottom", "title": "i", "labelAngle": 0}},
                    "xOffset": {"field": "r", "type": "nominal", "scale": {"paddingInner": 0.12, "paddingOuter": 0}},
                    "y": {"field": "hi", "type": "quantitative", "scale": {"domain": [0, 2.3], "nice": false, "zero": false}, "axis": {"orient": "left", "values": [0, 0.5, 1, 1.5, 2], "format": "~g", "title": "U", "titleX": -60}}}}
                ]
              },
              {"data": {"name": "pE"}, "mark": {"type": "tick", "opacity": 0}, "encoding": {
                "x": {"field": "g", "type": "nominal", "sort": ["3", "10", "30"], "scale": {"type": "band", "domain": ["3", "10", "30"], "paddingInner": 0.179, "paddingOuter": 0.554}, "axis": {"orient": "top", "title": null}},
                "y": {"field": "v", "type": "quantitative", "scale": {"domain": [0, 2.3], "nice": false, "zero": false}, "axis": {"orient": "right", "values": [0, 0.5, 1, 1.5, 2], "title": "E", "titleX": -377, "titleY": 154}}}}
            ],
            "resolve": {"scale": {"x": "independent", "y": "independent"}}
          }
        ]
      }
    ]
  }
]
}
